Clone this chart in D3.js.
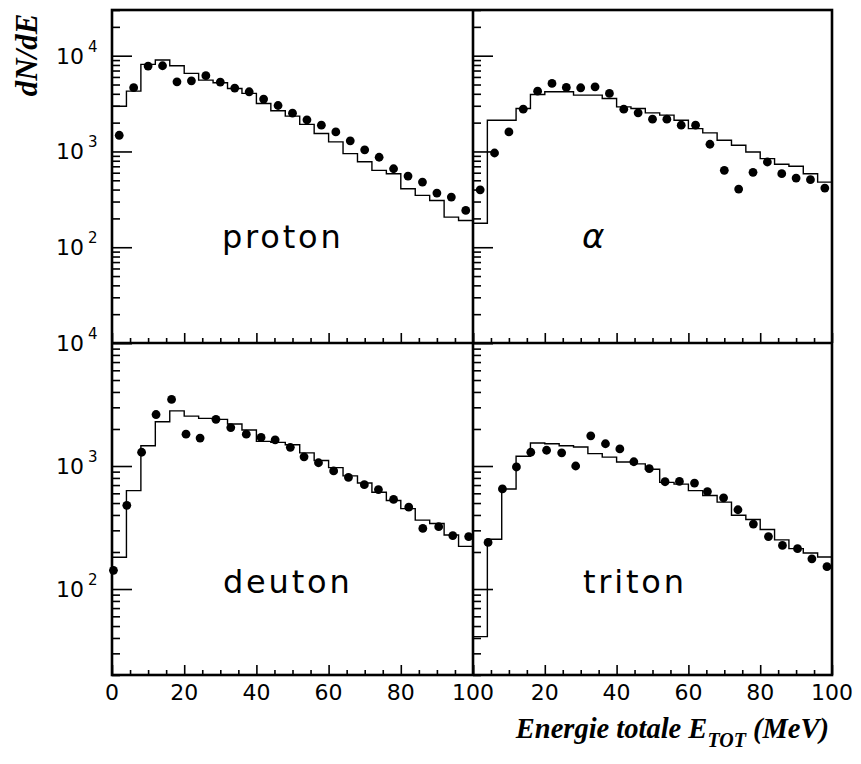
<!DOCTYPE html>
<html><head><meta charset="utf-8">
<script src="https://cdn.jsdelivr.net/npm/d3@7"></script>
<style>body{margin:0;background:#fff}svg{display:block}</style>
</head><body><svg id="c" width="861" height="764"></svg>
<script>
// ---- data ----
const binEdges = [0,4,8,12,16,20,24,28,32,36,40,44,48,52,56,60,64,68,72,76,80,84,88,92,96,100];

const protonSim = [2970,4270,8110,9010,7850,6530,5560,5220,4550,4040,3170,2660,2340,1920,1540,1260,950,780,635,586,408,348,308,206,190];
const protonE   = [2,6,10,14,18,22,26,30,34,38,42,46,50,54,58,62,66,70,74,78,82,86,90,94,98];
const protonExp = [1476,4630,7790,7850,5340,5470,6190,5300,4590,4200,3520,3020,2510,2140,1880,1600,1290,1040,870,660,553,479,368,334,242];

const alphaSim = [178,2118,2118,2812,3936,4198,4198,3873,3873,3573,2924,2812,2531,2393,2118,1733,1563,1310,1161,988,841,734,700,586,479];
const alphaE   = [2,6,10,14,18,22,26,30,34,38,42,46,50,54,58,62,66,70,74,78,82,86,90,94,98];
const alphaExp = [398,964,1600,2767,4266,5130,4660,4624,4730,4035,2767,2531,2172,2172,1880,1880,1189,635,405,605,776,586,528,507,415];

const deutonSim = [181,631,1463,2291,2805,2543,2437,2394,2194,1964,1585,1556,1490,1279,1110,970,832,727,612,525,450,363,341,275,222];
const deutonE   = [0.4,4.1,8.2,12.2,16.5,20.5,24.4,28.8,32.9,37.2,41.3,45.2,49.4,53.2,57.2,61.4,65.5,69.9,73.8,78.0,82.2,86.1,90.5,94.4,98.8];
const deutonExp = [142,479,1294,2622,3475,1815,1686,2394,2052,1815,1706,1634,1419,1188,1063,912,807,705,643,535,464,311,321,272,267];

const tritonSim = [41,254,651,1202,1537,1518,1463,1429,1262,1180,1077,1040,940,736,713,631,575,509,398,367,305,251,213,196,182];
const tritonE   = [4.2,8.2,12.1,16.1,20.5,24.7,28.6,32.8,36.9,40.9,44.8,49.1,53.5,57.5,61.7,65.3,69.8,73.8,78.1,82.3,86.2,90.4,94.4,98.6];
const tritonExp = [239,651,982,1294,1343,1279,1000,1758,1517,1377,1083,952,745,750,727,620,551,441,337,267,226,213,176,152];

const xMajorTicks = [0,20,40,60,80,100];
const xMinorTicks = [5,10,15,25,30,35,45,50,55,65,70,75,85,90,95];
const xLabelsLeft  = ["0","20","40","60","80","100"];
const xLabelsRight = ["","20","40","60","80","100"];
const yDecades = [10,100,1000,10000];
const yLabelValues = [100,1000,10000];
const yLabelExponents = ["2","3","4"];

// ---- layout ----
const L = 112, M = 473, R = 832, T = 10, H = 343, B = 675;
const svg = d3.select("#c");

const panels = [
  {sim:protonSim, e:protonE, exp:protonExp, x0:L, x1:M, y0:T, y1:H, dom:[10,30000], label:"proton", lx:222, ly:248, italic:false, ylab:true, xlab:null},
  {sim:alphaSim,  e:alphaE,  exp:alphaExp,  x0:M, x1:R, y0:T, y1:H, dom:[10,30000], label:"α", lx:582, ly:248, italic:true, ylab:false, xlab:null},
  {sim:deutonSim, e:deutonE, exp:deutonExp, x0:L, x1:M, y0:H, y1:B, dom:[20,10000], label:"deuton", lx:223, ly:593, italic:false, ylab:true, xlab:xLabelsLeft},
  {sim:tritonSim, e:tritonE, exp:tritonExp, x0:M, x1:R, y0:H, y1:B, dom:[20,10000], label:"triton", lx:583, ly:593, italic:false, ylab:false, xlab:xLabelsRight}
];

panels.forEach(p => {
  const x = d3.scaleLinear().domain([0,100]).range([p.x0, p.x1]);
  const y = d3.scaleLog().domain(p.dom).range([p.y1, p.y0]);
  const g = svg.append("g");

  // y ticks (inside, pointing right)
  const majors = yDecades.filter(v => v >= p.dom[0] && v <= p.dom[1]);
  const minors = [];
  yDecades.forEach(d => { for (let k = 2; k <= 9; k++) { const v = k*d; if (v >= p.dom[0] && v <= p.dom[1]) minors.push(v); } });
  const yMaj = d3.axisRight(y).tickValues(majors).tickSize(20).tickFormat("");
  const yMin = d3.axisRight(y).tickValues(minors).tickSize(8).tickFormat("");
  [yMaj, yMin].forEach(ax => {
    const a = g.append("g").attr("transform", `translate(${p.x0},0)`).call(ax);
    a.select(".domain").remove();
    a.selectAll("line").attr("stroke","#000").attr("stroke-width",1.6);
  });

  // x ticks (inside, pointing up)
  const xMaj = d3.axisTop(x).tickValues(xMajorTicks).tickSize(10).tickFormat("");
  const xMin = d3.axisTop(x).tickValues(xMinorTicks).tickSize(5).tickFormat("");
  [xMaj, xMin].forEach(ax => {
    const a = g.append("g").attr("transform", `translate(0,${p.y1})`).call(ax);
    a.select(".domain").remove();
    a.selectAll("line").attr("stroke","#000").attr("stroke-width",1.6);
  });

  // histogram (simulation)
  const pts = p.sim.map((v,i) => [binEdges[i], v]);
  pts.push([binEdges[binEdges.length-1], p.sim[p.sim.length-1]]);
  const line = d3.line().x(d => x(d[0])).y(d => y(d[1])).curve(d3.curveStepAfter);
  g.append("path").attr("d", line(pts)).attr("fill","none").attr("stroke","#000").attr("stroke-width",1.4);

  // experimental points
  g.selectAll("circle.pt").data(p.exp).enter().append("circle")
    .attr("cx", (d,i) => x(p.e[i])).attr("cy", d => y(d)).attr("r", 4.4).attr("fill","#000");

  // panel label
  g.append("text").attr("x", p.lx).attr("y", p.ly)
    .attr("font-family", "'DejaVu Sans', sans-serif").attr("font-size", p.italic ? 34 : 32)
    .attr("font-style", p.italic ? "italic" : "normal")
    .attr("letter-spacing", p.italic ? 0 : 2.8)
    .text(p.label);

  // y tick labels
  if (p.ylab) {
    yLabelValues.forEach((v,i) => {
      const yy = y(v);
      g.append("text").attr("x", 84).attr("y", yy + 8).attr("text-anchor","end")
        .attr("font-family","'DejaVu Sans', sans-serif").attr("font-size",22).text("10");
      g.append("text").attr("x", 88).attr("y", yy - 4)
        .attr("font-family","'DejaVu Sans', sans-serif").attr("font-size",15).text(yLabelExponents[i]);
    });
  }
  // x tick labels
  if (p.xlab) {
    xMajorTicks.forEach((v,i) => {
      if (!p.xlab[i]) return;
      g.append("text").attr("x", x(v)).attr("y", 700).attr("text-anchor","middle")
        .attr("font-family","'DejaVu Sans', sans-serif").attr("font-size",22).text(p.xlab[i]);
    });
  }
});

// frame
svg.append("rect").attr("x",L).attr("y",T).attr("width",R-L).attr("height",B-T)
  .attr("fill","none").attr("stroke","#000").attr("stroke-width",2.6);
svg.append("line").attr("x1",M).attr("x2",M).attr("y1",T).attr("y2",B).attr("stroke","#000").attr("stroke-width",2.6);
svg.append("line").attr("x1",L).attr("x2",R).attr("y1",H).attr("y2",H).attr("stroke","#000").attr("stroke-width",2.6);

// axis titles
svg.append("text").attr("transform","translate(37,55) rotate(-90)").attr("text-anchor","middle")
  .attr("font-family","'Liberation Serif', 'Times New Roman', serif").attr("font-weight","bold").attr("font-style","italic")
  .attr("font-size",31).text("dN/dE");

const xt = svg.append("text").attr("x",829).attr("y",738).attr("text-anchor","end")
  .attr("font-family","'Liberation Serif', 'Times New Roman', serif").attr("font-weight","bold").attr("font-style","italic")
  .attr("font-size",28.5);
xt.append("tspan").text("Energie totale E");
xt.append("tspan").attr("font-size",20).attr("dy",9).text("TOT");
xt.append("tspan").attr("dy",-9).text(" (MeV)");
</script>
</body></html>
